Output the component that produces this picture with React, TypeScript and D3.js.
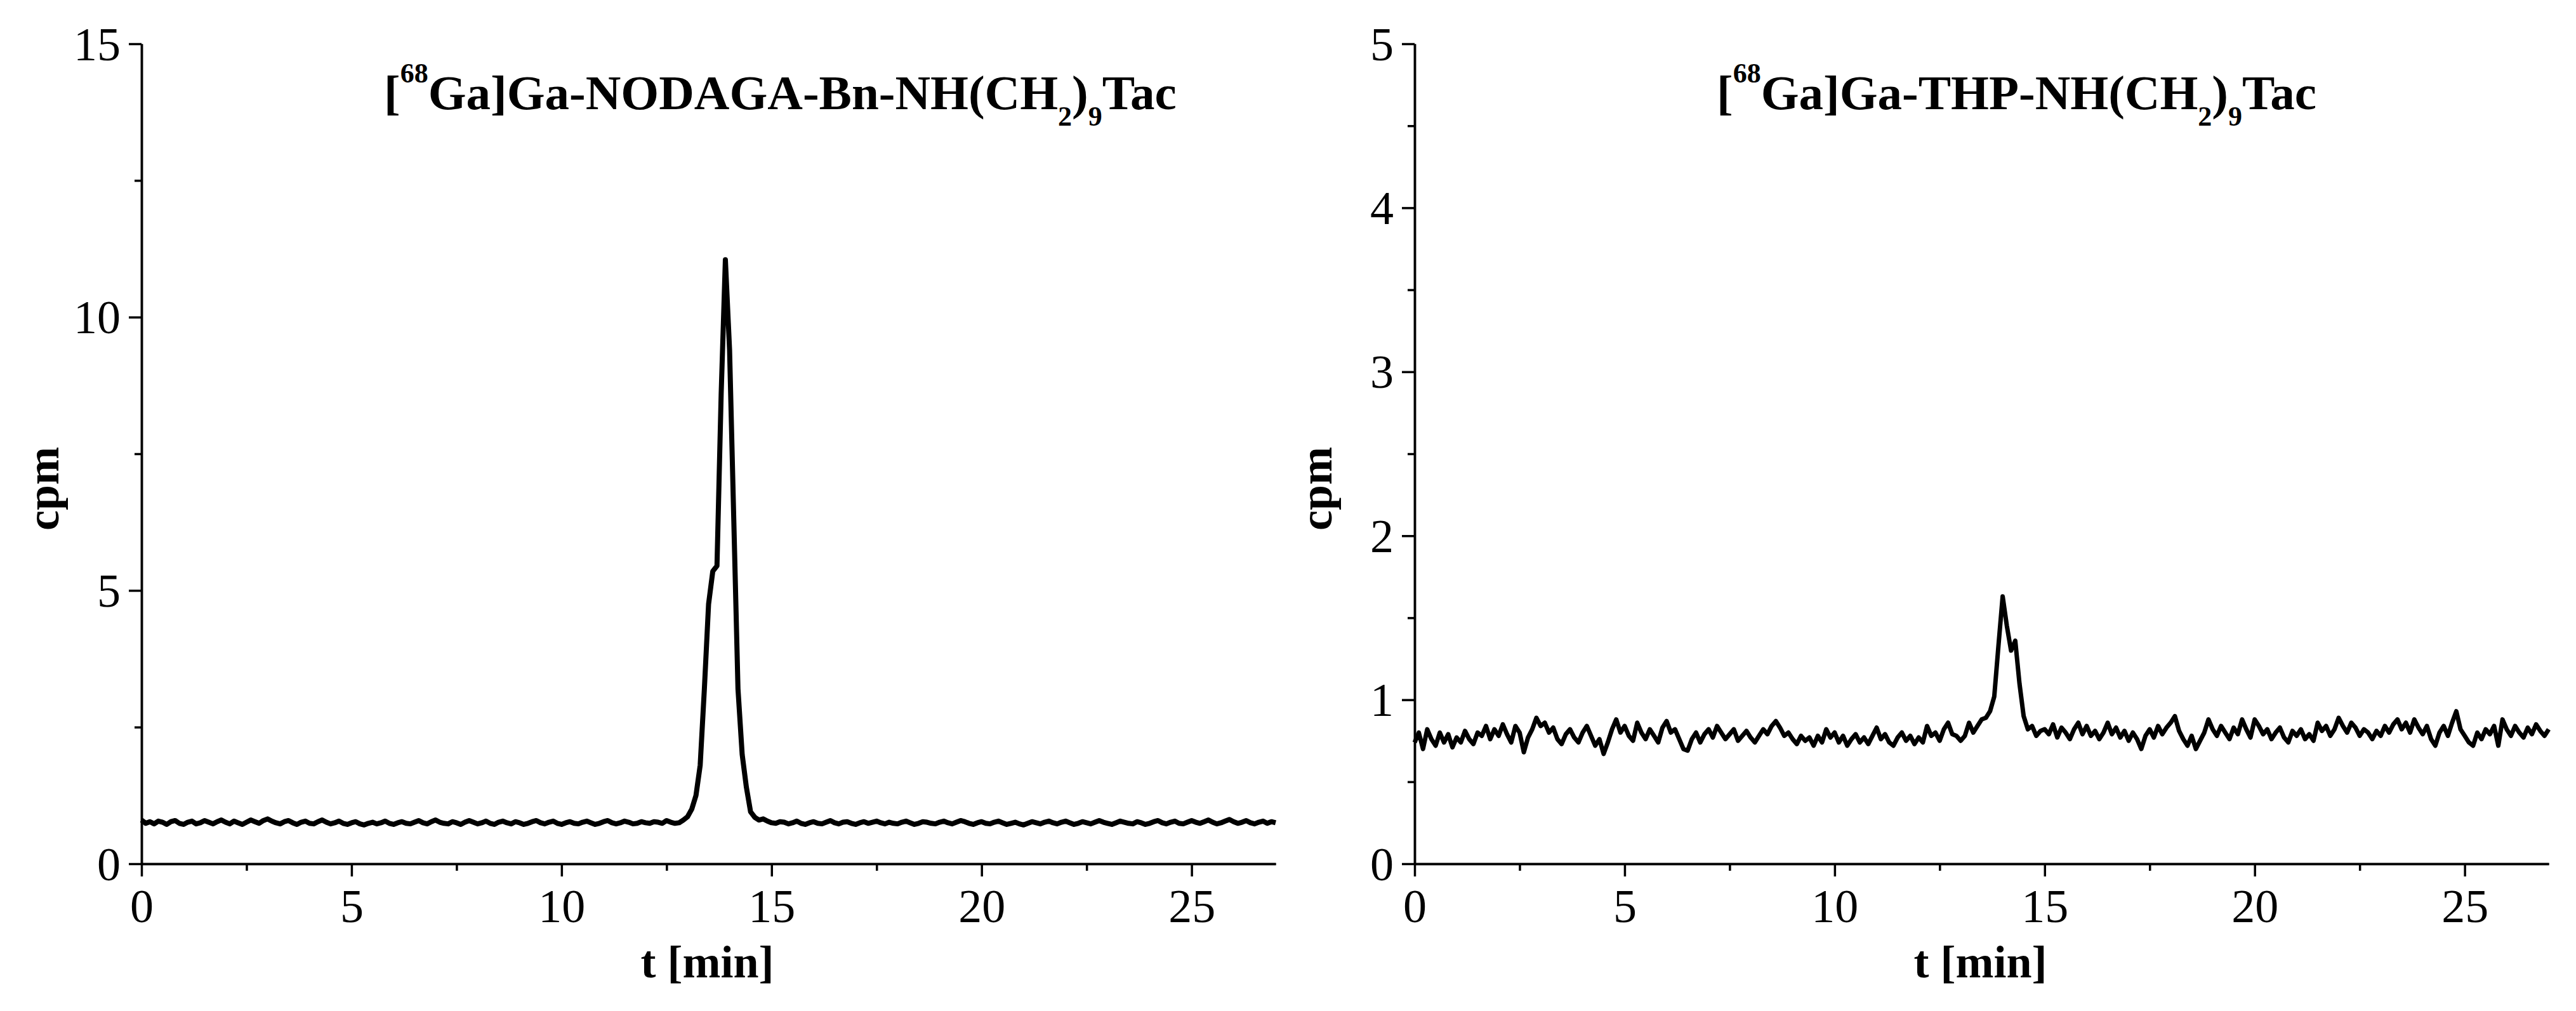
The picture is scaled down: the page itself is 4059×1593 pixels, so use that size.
import React, { useEffect, useRef } from 'react';
import * as d3 from 'd3';

// radio-HPLC traces, one reading every 0.1 min from 0 to 27 min
const timeStep = 0.1;

const nodagaCounts = [
    0.80, 0.74, 0.77, 0.73, 0.78, 0.76, 0.72, 0.77, 0.79, 0.74,
    0.72, 0.76, 0.78, 0.73, 0.75, 0.79, 0.76, 0.73, 0.77, 0.80,
    0.76, 0.73, 0.78, 0.75, 0.72, 0.76, 0.80, 0.77, 0.74, 0.79,
    0.82, 0.78, 0.75, 0.73, 0.77, 0.79, 0.75, 0.72, 0.76, 0.78,
    0.74, 0.73, 0.77, 0.80, 0.76, 0.73, 0.75, 0.78, 0.74, 0.72,
    0.75, 0.77, 0.73, 0.71, 0.74, 0.76, 0.73, 0.75, 0.78, 0.74,
    0.72, 0.75, 0.77, 0.74, 0.73, 0.76, 0.79, 0.75, 0.73, 0.77,
    0.80, 0.76, 0.74, 0.73, 0.77, 0.75, 0.72, 0.76, 0.79, 0.76,
    0.73, 0.75, 0.78, 0.74, 0.72, 0.76, 0.78, 0.75, 0.73, 0.77,
    0.75, 0.72, 0.74, 0.77, 0.79, 0.75, 0.73, 0.76, 0.78, 0.74,
    0.72, 0.75, 0.77, 0.74, 0.73, 0.76, 0.78, 0.75, 0.72, 0.74,
    0.77, 0.79, 0.75, 0.73, 0.75, 0.78, 0.76, 0.73, 0.74, 0.77,
    0.75, 0.74, 0.77, 0.76, 0.74, 0.79, 0.76, 0.74, 0.75, 0.80,
    0.86, 1.00, 1.25, 1.80, 3.20, 4.75, 5.35, 5.45, 8.60, 11.05,
    9.40, 6.30, 3.20, 2.00, 1.40, 0.95, 0.85, 0.80, 0.82, 0.78,
    0.75, 0.74, 0.77, 0.76, 0.73, 0.75, 0.78, 0.74, 0.72, 0.75,
    0.77, 0.74, 0.73, 0.76, 0.79, 0.75, 0.73, 0.76, 0.77, 0.74,
    0.72, 0.75, 0.77, 0.74, 0.76, 0.78, 0.75, 0.73, 0.76, 0.74,
    0.73, 0.76, 0.78, 0.75, 0.72, 0.74, 0.77, 0.76, 0.74, 0.73,
    0.76, 0.78, 0.75, 0.73, 0.76, 0.79, 0.77, 0.74, 0.72, 0.75,
    0.77, 0.74, 0.73, 0.76, 0.78, 0.75, 0.72, 0.74, 0.76, 0.73,
    0.71, 0.74, 0.77, 0.75, 0.73, 0.76, 0.78, 0.75, 0.73, 0.76,
    0.78, 0.75, 0.72, 0.74, 0.77, 0.75, 0.73, 0.76, 0.79, 0.76,
    0.74, 0.72, 0.75, 0.78, 0.76, 0.74, 0.73, 0.77, 0.75, 0.72,
    0.74, 0.77, 0.79, 0.75, 0.73, 0.76, 0.78, 0.74, 0.73, 0.76,
    0.79, 0.76, 0.74, 0.77, 0.80, 0.76, 0.73, 0.75, 0.78, 0.81,
    0.77, 0.74, 0.76, 0.79, 0.75, 0.73, 0.76, 0.78, 0.74, 0.77,
    0.75,
];

const thpCounts = [
    0.74, 0.80, 0.70, 0.82, 0.76, 0.72, 0.80, 0.74, 0.79, 0.71,
    0.77, 0.74, 0.81, 0.76, 0.73, 0.80, 0.78, 0.84, 0.76, 0.82,
    0.78, 0.85, 0.79, 0.74, 0.84, 0.80, 0.68, 0.77, 0.82, 0.89,
    0.84, 0.86, 0.80, 0.83, 0.76, 0.73, 0.79, 0.82, 0.77, 0.74,
    0.80, 0.84, 0.78, 0.72, 0.76, 0.67, 0.74, 0.82, 0.88, 0.80,
    0.84, 0.78, 0.75, 0.86, 0.80, 0.76, 0.82, 0.78, 0.74, 0.83,
    0.87, 0.80, 0.82, 0.76, 0.70, 0.69, 0.76, 0.80, 0.74, 0.79,
    0.82, 0.77, 0.84, 0.80, 0.76, 0.79, 0.82, 0.75, 0.78, 0.81,
    0.77, 0.74, 0.78, 0.82, 0.79, 0.84, 0.87, 0.83, 0.78, 0.80,
    0.76, 0.73, 0.78, 0.75, 0.77, 0.72, 0.78, 0.74, 0.82, 0.77,
    0.80, 0.74, 0.78, 0.72, 0.76, 0.79, 0.74, 0.77, 0.73, 0.78,
    0.83, 0.76, 0.79, 0.74, 0.72, 0.77, 0.80, 0.75, 0.78, 0.73,
    0.77, 0.74, 0.84, 0.78, 0.80, 0.75, 0.82, 0.86, 0.79, 0.78,
    0.75, 0.78, 0.86, 0.80, 0.84, 0.88, 0.89, 0.93, 1.02, 1.33,
    1.63, 1.45, 1.30, 1.36, 1.10, 0.90, 0.82, 0.84, 0.78, 0.81,
    0.82, 0.79, 0.85, 0.77, 0.83, 0.80, 0.76, 0.82, 0.86, 0.79,
    0.84, 0.78, 0.81, 0.76, 0.80, 0.86, 0.79, 0.83, 0.77, 0.81,
    0.75, 0.80, 0.76, 0.70, 0.78, 0.82, 0.77, 0.84, 0.79, 0.83,
    0.86, 0.90, 0.81, 0.76, 0.72, 0.78, 0.70, 0.75, 0.80, 0.88,
    0.82, 0.78, 0.84, 0.80, 0.76, 0.83, 0.79, 0.88, 0.82, 0.77,
    0.88, 0.84, 0.79, 0.82, 0.76, 0.80, 0.83, 0.77, 0.74, 0.81,
    0.78, 0.82, 0.76, 0.79, 0.75, 0.86, 0.81, 0.84, 0.78, 0.82,
    0.89, 0.84, 0.80, 0.86, 0.83, 0.78, 0.82, 0.80, 0.76, 0.81,
    0.78, 0.84, 0.80, 0.85, 0.88, 0.82, 0.86, 0.80, 0.88, 0.83,
    0.79, 0.84, 0.76, 0.72, 0.80, 0.84, 0.78, 0.86, 0.93, 0.82,
    0.78, 0.74, 0.72, 0.80, 0.76, 0.82, 0.79, 0.84, 0.72, 0.88,
    0.82, 0.78, 0.84, 0.80, 0.77, 0.83, 0.79, 0.85, 0.81, 0.78,
    0.82,
];

const timeTicks = [0, 5, 10, 15, 20, 25];
const timeMinorTicks = [2.5, 7.5, 12.5, 17.5, 22.5];
const nodagaTicks = [0, 5, 10, 15];
const nodagaMinorTicks = [2.5, 7.5, 12.5];
const thpTicks = [0, 1, 2, 3, 4, 5];
const thpMinorTicks = [0.5, 1.5, 2.5, 3.5, 4.5];

const panels = [
    {
        left: 223,
        counts: nodagaCounts,
        yMax: 15,
        yTicks: nodagaTicks,
        yMinor: nodagaMinorTicks,
        titleX: 605,
        chelator: 'NODAGA-Bn',
        strokeWidth: 8,
    },
    {
        left: 2229,
        counts: thpCounts,
        yMax: 5,
        yTicks: thpTicks,
        yMinor: thpMinorTicks,
        titleX: 2705,
        chelator: 'THP',
        strokeWidth: 7,
    },
];

const W = 4059;
const H = 1593;
const plotW = 1787;
const top = 69;
const bottom = 1361;
const font = '"Liberation Serif", "Times New Roman", serif';

function styleAxis(g) {
    g.attr('font-family', font).attr('font-size', 74);
    g.select('.domain').attr('stroke', '#000').attr('stroke-width', 3.5);
    g.selectAll('.tick line').attr('stroke', '#000').attr('stroke-width', 3.5);
    g.selectAll('.tick text').attr('fill', '#000');
}

export default function App() {
    const ref = useRef(null);

    useEffect(() => {
        const svg = d3.select(ref.current);
        svg.selectAll('*').remove();

        panels.forEach(p => {
            const x = d3.scaleLinear().domain([0, 27]).range([p.left, p.left + plotW]);
            const y = d3.scaleLinear().domain([0, p.yMax]).range([bottom, top]);
            const g = svg.append('g');

            // minor ticks first, majors on top
            g.append('g')
                .attr('transform', `translate(0,${bottom})`)
                .call(d3.axisBottom(x).tickValues(timeMinorTicks).tickSize(11).tickSizeOuter(0).tickFormat(() => ''))
                .call(styleAxis);
            g.append('g')
                .attr('transform', `translate(${p.left},0)`)
                .call(d3.axisLeft(y).tickValues(p.yMinor).tickSize(11).tickSizeOuter(0).tickFormat(() => ''))
                .call(styleAxis);

            const xAxis = g.append('g')
                .attr('transform', `translate(0,${bottom})`)
                .call(d3.axisBottom(x).tickValues(timeTicks).tickSize(20).tickSizeOuter(0).tickFormat(d3.format('d')))
                .call(styleAxis);
            xAxis.selectAll('.tick text').attr('y', 92).attr('dy', 0);

            const yAxis = g.append('g')
                .attr('transform', `translate(${p.left},0)`)
                .call(d3.axisLeft(y).tickValues(p.yTicks).tickSize(20).tickSizeOuter(0).tickFormat(d3.format('d')))
                .call(styleAxis);
            yAxis.selectAll('.tick text').attr('x', -33).attr('dy', '0.34em');

            const line = d3.line()
                .x((d, i) => x(i * timeStep))
                .y(d => y(d));
            g.append('path')
                .datum(p.counts)
                .attr('fill', 'none')
                .attr('stroke', '#000')
                .attr('stroke-width', p.strokeWidth)
                .attr('stroke-linejoin', 'round')
                .attr('d', line);

            g.append('text')
                .attr('x', x(13.5) - 2)
                .attr('y', 1540)
                .attr('text-anchor', 'middle')
                .attr('font-family', font)
                .attr('font-weight', 'bold')
                .attr('font-size', 72)
                .text('t [min]');

            g.append('text')
                .attr('transform', `translate(${p.left - 131},770) rotate(-90)`)
                .attr('text-anchor', 'middle')
                .attr('font-family', font)
                .attr('font-weight', 'bold')
                .attr('font-size', 72)
                .text('cpm');

            const title = g.append('text')
                .attr('x', p.titleX)
                .attr('y', 172)
                .attr('font-family', font)
                .attr('font-weight', 'bold')
                .attr('font-size', 77);
            title.append('tspan').text('[');
            title.append('tspan').attr('font-size', 44).attr('dy', -42).text('68');
            title.append('tspan').attr('dy', 42).text(`Ga]Ga-${p.chelator}-NH(CH`);
            title.append('tspan').attr('font-size', 44).attr('dy', 26).text('2');
            title.append('tspan').attr('dy', -26).text(')');
            title.append('tspan').attr('font-size', 44).attr('dy', 26).text('9');
            title.append('tspan').attr('dy', -26).text('Tac');
        });
    }, []);

    return (
        <svg
            ref={ref}
            width={W}
            height={H}
            style={{ position: 'absolute', left: 0, top: 0, background: '#fff' }}
        />
    );
}
